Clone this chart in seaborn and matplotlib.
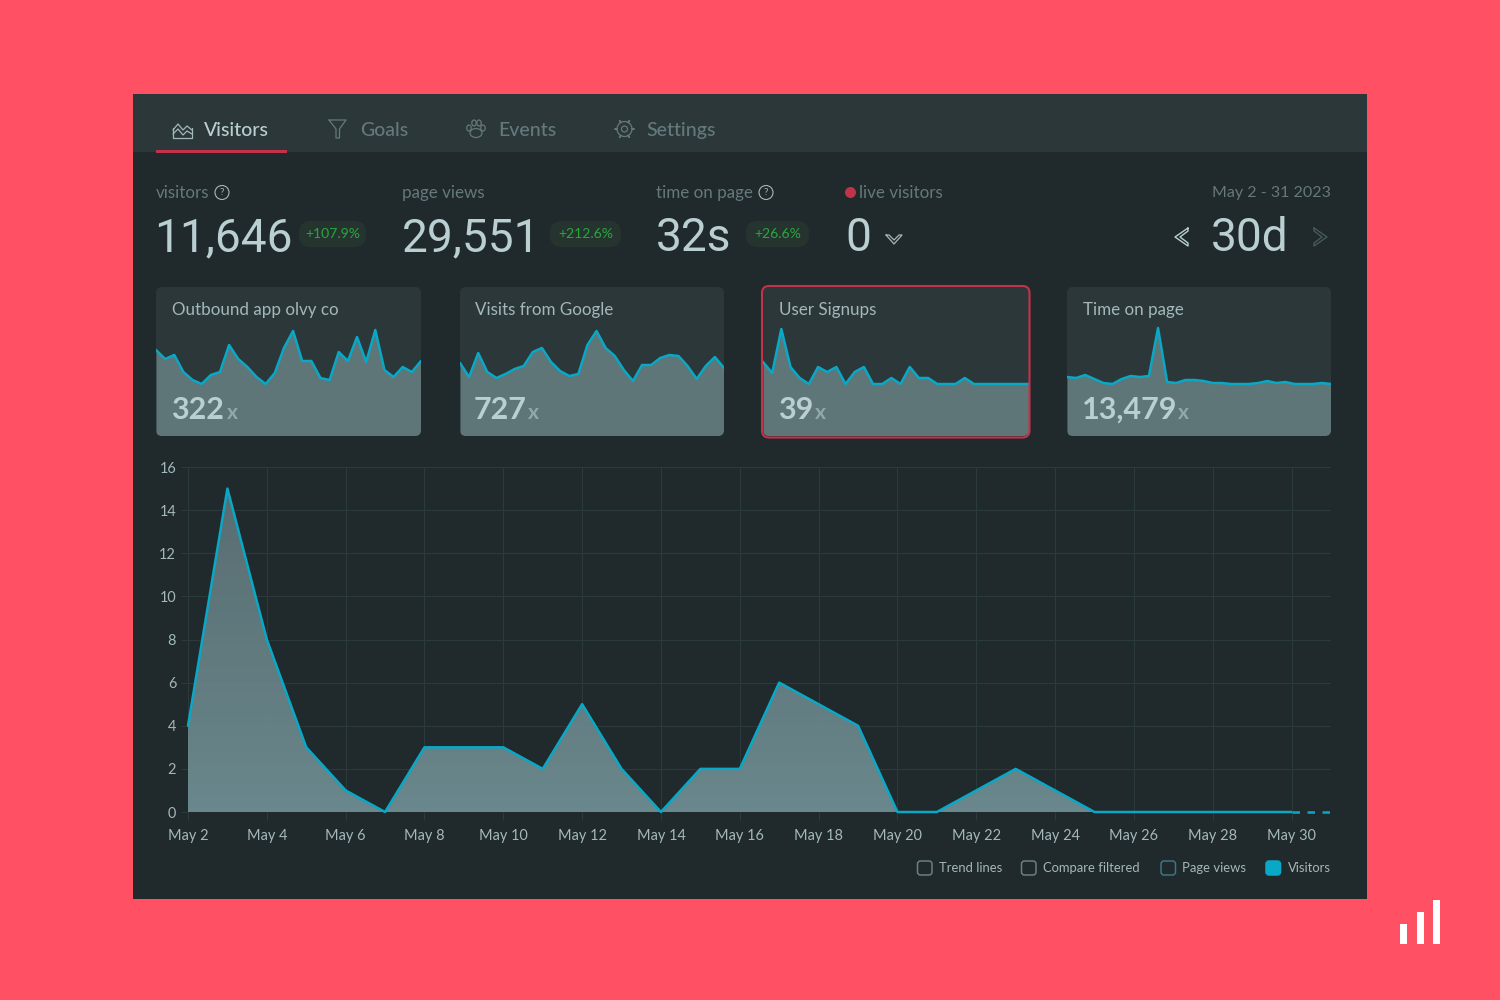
"""
Visitors dashboard: stat header, four sparkline cards and the daily visitors area chart.
"""

import numpy as np
import matplotlib.pyplot as plt
import seaborn as sns
from matplotlib.colors import LinearSegmentedColormap
from matplotlib.patches import Circle, Ellipse, FancyBboxPatch, Rectangle

# Main chart data
days = list(range(2, 32))
visitors = [4, 15, 8, 3, 1, 0, 3, 3, 3, 2, 5, 2, 0, 2, 2, 6, 5, 4, 0, 0, 1, 2, 1, 0, 0, 0, 0, 0, 0, 0]
x_ticks = list(range(2, 31, 2))
x_tick_labels = [f"May {d}" for d in x_ticks]
y_ticks = list(range(0, 17, 2))

# Sparkline heights
spark_outbound = [86, 77, 81, 64, 56, 52, 61, 64, 91, 77, 69, 59, 52, 63, 88, 105, 75, 75, 58, 56, 84, 75, 99, 74, 106, 66, 59, 69, 64, 75]
spark_google = [73, 59, 83, 64, 58, 62, 67, 70, 84, 88, 74, 65, 60, 62, 91, 105, 88, 80, 66, 55, 71, 71, 78, 81, 80, 70, 57, 70, 79, 68]
spark_signups = [74, 63, 107, 69, 58, 52, 69, 64, 69, 52, 64, 69, 52, 52, 58, 52, 69, 58, 58, 52, 52, 52, 58, 52, 52, 52, 52, 52, 52, 52]
spark_time = [59, 58, 61, 57, 53, 52, 57, 60, 59, 60, 108, 54, 53, 56, 56, 55, 53, 53, 52, 52, 52, 53, 55, 53, 54, 52, 52, 52, 53, 52]

card_titles = ["Outbound app olvy co", "Visits from Google", "User Signups", "Time on page"]
card_totals = ["322", "727", "39", "13,479"]

tab_labels = ["Visitors", "Goals", "Events", "Settings"]
stat_labels = ["visitors", "page views", "time on page", "live visitors"]
stat_values = ["11,646", "29,551", "32s", "0"]
stat_changes = ["+107.9%", "+212.6%", "+26.6%"]
legend_labels = ["Trend lines", "Compare filtered", "Page views", "Visitors"]

CORAL = "#FF5064"
PANEL = "#20292B"
HEADER = "#2B3739"
GRID = "#2B3A3B"
RED = "#C2334A"
CYAN = "#08A8C6"
FILL = "#5F7678"
BRIGHT = "#B9CFD1"
LABEL = "#A3B8BA"
MUTED = "#64797C"
GREEN = "#2AA63F"

W, H = 1500, 1000

sns.set_theme(style="dark", rc={"axes.facecolor": "none", "figure.facecolor": CORAL})
plt.rcParams["font.family"] = ["Lato", "DejaVu Sans"]


def px_axes(fig, left, top, right, bottom, zorder):
    """Axes placed by pixel box, top-left origin."""
    ax = fig.add_axes([left / W, 1 - bottom / H, (right - left) / W, (bottom - top) / H], zorder=zorder)
    ax.patch.set_alpha(0)
    return ax


def fs(px):
    # font size in points for a pixel height at dpi 100
    return px * 0.72


def round_box(ax, x0, y0, x1, y1, radius, **kwargs):
    box = FancyBboxPatch((x0, y0), x1 - x0, y1 - y0, boxstyle=f"round,pad=0,rounding_size={radius}", **kwargs)
    ax.add_patch(box)
    return box


def draw_spark(fig, clip_box, left, right, values):
    ax = px_axes(fig, left, 287, right, 436, 2)
    xs = np.arange(len(values))
    fill = ax.fill_between(xs, 0, values, color=FILL, linewidth=0)
    sns.lineplot(x=xs, y=values, ax=ax, color=CYAN, linewidth=1.8, errorbar=None)
    fill.set_clip_path(clip_box)
    ax.set_xlim(0, len(values) - 1)
    ax.set_ylim(0, 149)
    ax.set_xlabel("")
    ax.set_ylabel("")
    ax.axis("off")


def draw_icons(ax):
    # Tab icons and small glyphs, drawn as thin outlines
    ln = dict(lw=0.9, solid_joinstyle="round")
    ax.plot([173, 173, 192, 192], [128, 138, 138, 128], color=LABEL, **ln)
    ax.plot([173, 178, 183, 187, 192], [130, 124, 130, 126, 130], color=LABEL, **ln)
    ax.plot([173, 178, 183, 187, 192], [134, 129, 135, 131, 134], color=LABEL, **ln)

    ax.plot([329, 346, 339.5, 339.5, 336, 336, 329], [120, 120, 129, 138, 138, 129, 120], color=MUTED, **ln)

    for cx, cy, rx, ry in [(469, 128, 2.2, 3), (474, 123, 2.2, 3), (479, 123, 2.2, 3), (483, 128, 2.2, 3), (476, 133, 6, 4.5)]:
        ax.add_patch(Ellipse((cx, cy), rx * 2, ry * 2, fill=False, ec=MUTED, lw=0.9))

    ax.add_patch(Circle((624.5, 129), 3, fill=False, ec=MUTED, lw=0.9))
    ax.add_patch(Circle((624.5, 129), 7.5, fill=False, ec=MUTED, lw=0.9))
    for a in np.deg2rad(np.arange(0, 360, 60)):
        ax.plot([624.5 + 7.5 * np.cos(a), 624.5 + 9.5 * np.cos(a)], [129 + 7.5 * np.sin(a), 129 + 9.5 * np.sin(a)], color=MUTED, lw=1.4)

    for cx in (222, 766):
        ax.add_patch(Circle((cx, 192.5), 7, fill=False, ec=LABEL, lw=0.8))
        ax.text(cx, 192.5, "?", color=LABEL, fontsize=fs(10), ha="center", va="center")

    ax.add_patch(Circle((850.5, 192.5), 5.5, color=RED, lw=0))

    # chevrons
    ax.plot([886, 894, 902, 899, 894, 889, 886], [235, 244, 235, 235, 240, 235, 235], color=LABEL, lw=0.9)
    ax.plot([1188, 1175, 1188, 1188, 1180, 1188, 1188], [228, 237, 246, 243, 237, 231, 228], color=BRIGHT, lw=1.0)
    ax.plot([1314, 1327, 1314, 1314, 1322, 1314, 1314], [228, 237, 246, 243, 237, 231, 228], color="#46595C", lw=1.0)


def main():
    fig = plt.figure(figsize=(W / 100, H / 100), dpi=100, facecolor=CORAL)

    # Background chrome
    bg = px_axes(fig, 0, 0, W, H, 0)
    bg.set_xlim(0, W)
    bg.set_ylim(H, 0)
    bg.axis("off")
    bg.add_patch(Rectangle((133, 94), 1234, 805, color=PANEL, lw=0))
    bg.add_patch(Rectangle((133, 94), 1234, 58, color=HEADER, lw=0))
    bg.add_patch(Rectangle((156, 149.5), 131, 3.5, color=RED, lw=0))

    card_lefts = [156, 460, 763, 1067]
    card_rights = [421, 724, 1029, 1331]
    spark_data = [spark_outbound, spark_google, spark_signups, spark_time]
    for left, right in zip(card_lefts, card_rights):
        round_box(bg, left, 287, right, 436, 6, fc=HEADER, ec="none")

    # Main area chart, fill fades slightly darker towards the top
    ax = px_axes(fig, 188, 467, 1331, 812, 1)
    area = ax.fill_between(days, 0, visitors, color="none", linewidth=0)
    fade = LinearSegmentedColormap.from_list("fade", ["#6D8C91", "#5B6F73"])
    grad = ax.imshow(np.linspace(0, 1, 64).reshape(-1, 1), extent=[2, 31, 0, 16], origin="lower", aspect="auto", cmap=fade, alpha=0.96, zorder=2)
    grad.set_clip_path(area.get_paths()[0], transform=ax.transData)
    sns.lineplot(x=days[:-1], y=visitors[:-1], ax=ax, color=CYAN, linewidth=1.8, errorbar=None, zorder=4)
    sns.lineplot(x=days[-2:], y=visitors[-2:], ax=ax, color=CYAN, linewidth=1.8, errorbar=None, zorder=4, linestyle=(0, (3, 3)))
    for line in ax.get_lines():
        line.set_clip_on(False)
    ax.set_xlim(2, 31)
    ax.set_ylim(0, 16)
    ax.set_xticks(x_ticks, x_tick_labels)
    ax.set_yticks(y_ticks)
    ax.set_xlabel("")
    ax.set_ylabel("")
    ax.grid(True, color=GRID, linewidth=0.8)
    ax.set_axisbelow(True)
    ax.tick_params(axis="x", length=6, width=0.8, color=GRID, labelcolor=LABEL, labelsize=fs(14.5), pad=6.5, bottom=True)
    ax.tick_params(axis="y", length=5, width=0.8, color=GRID, labelcolor=LABEL, labelsize=fs(14.5), pad=3.5, left=True)
    sns.despine(ax=ax, left=True, bottom=True)

    # Foreground layer for text and outlines
    top = px_axes(fig, 0, 0, W, H, 3)
    top.set_xlim(0, W)
    top.set_ylim(H, 0)
    top.axis("off")

    # Sparklines clipped to their rounded cards
    for left, right, values in zip(card_lefts, card_rights, spark_data):
        clip = round_box(top, left, 287, right, 436, 6, fc="none", ec="none")
        draw_spark(fig, clip, left, right, values)
    round_box(top, 762, 286, 1029.5, 437.5, 7, fc="none", ec=RED, lw=1.5)

    # Tabs
    for x, label, color in zip([204, 360, 498, 646], tab_labels, [BRIGHT, MUTED, MUTED, MUTED]):
        top.text(x, 130.5, label, color=color, fontsize=fs(19.5), va="center", fontweight="medium")

    # Stat header
    for x, label in zip([156, 402, 656, 859], stat_labels):
        top.text(x, 193, label, color=MUTED, fontsize=fs(17), va="center")
    top.text(1331, 193, "May 2 - 31 2023", color=MUTED, fontsize=fs(16), va="center", ha="right")

    for x, value in zip([154, 402, 656, 845], stat_values):
        top.text(x, 251, value, color=BRIGHT, fontsize=fs(46), va="baseline", family="Roboto")
    top.text(1211, 251, "30d", color=BRIGHT, fontsize=fs(46), va="baseline", family="Roboto")

    for (x0, x1), change in zip([(299, 366), (550, 621), (746, 809)], stat_changes):
        round_box(top, x0, 221, x1, 247, 12, fc="#263430", ec="none")
        top.text((x0 + x1) / 2, 234.5, change, color=GREEN, fontsize=fs(14), va="center", ha="center")

    # Card titles and totals
    for left, title in zip([172, 475, 779, 1083], card_titles):
        top.text(left, 310, title, color=LABEL, fontsize=fs(17), va="center")
    for left, x_at, total in zip([171, 474, 778, 1082], [227, 528, 815, 1178], card_totals):
        top.text(left, 419, total, color=BRIGHT, fontsize=fs(30.5), va="baseline", fontweight="bold")
        top.text(x_at, 419, "x", color="#93A8AA", fontsize=fs(21), va="baseline", fontweight="bold")

    draw_icons(top)

    # Legend row
    for box_x, text_x, label, edge in zip([917.5, 1021.5, 1161, 1266], [939, 1043, 1182, 1288], legend_labels, ["#6A8082", "#6A8082", "#3F7583", CYAN]):
        face = CYAN if label == "Visitors" else "none"
        round_box(top, box_x, 861, box_x + 14.5, 875, 3, fc=face, ec=edge, lw=1.1)
        top.text(text_x, 868.5, label, color=LABEL, fontsize=fs(13), va="center")

    # Logo bars in the corner
    for x, y in zip([1400, 1417, 1433], [924, 912, 900]):
        top.add_patch(Rectangle((x, y), 7, 944 - y, color="white", lw=0))

    fig.savefig("out.png", dpi=100, facecolor=CORAL)
    plt.close(fig)


if __name__ == "__main__":
    main()
